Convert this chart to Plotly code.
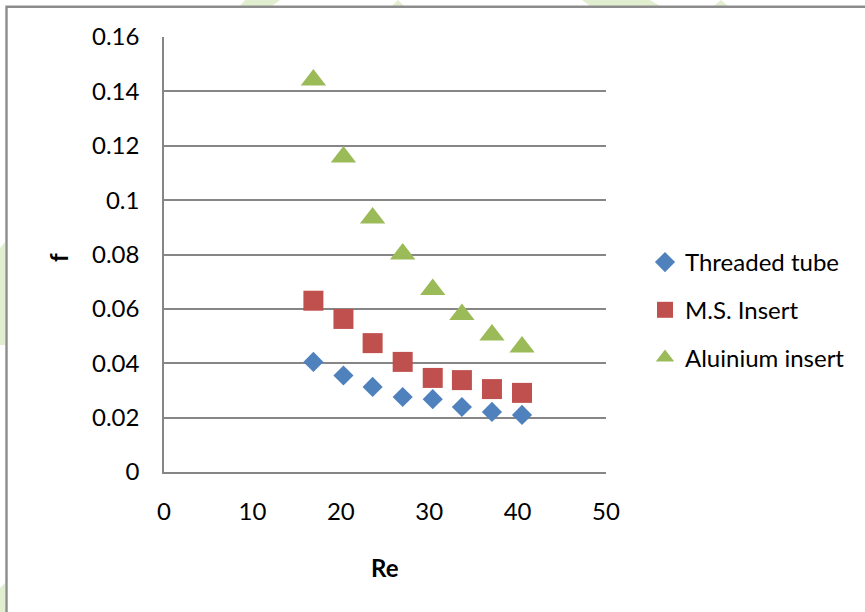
import plotly.graph_objects as go

# Reynolds number and friction factor for the three tube configurations
re_values = [16.9, 20.3, 23.6, 27.0, 30.4, 33.7, 37.1, 40.5]
f_threaded = [0.0405, 0.0355, 0.0313, 0.0276, 0.0268, 0.0239, 0.0221, 0.0210]
f_ms_insert = [0.0630, 0.0563, 0.0474, 0.0405, 0.0346, 0.0338, 0.0305, 0.0291]
f_aluminium = [0.1442, 0.1159, 0.0934, 0.0802, 0.0671, 0.0579, 0.0504, 0.0460]

series_names = ["Threaded tube", "M.S. Insert", "Aluinium insert"]
x_ticks = [0, 10, 20, 30, 40, 50]
y_ticks = [0, 0.02, 0.04, 0.06, 0.08, 0.1, 0.12, 0.14, 0.16]
y_tick_text = ["0", "0.02", "0.04", "0.06", "0.08", "0.1", "0.12", "0.14", "0.16"]

W, H = 865, 612
L, R, T, B = 164, 606, 37, 472   # plot-area edges in pixels
FONT = "Lato, 'Open Sans', sans-serif"
FS = 24
GRID = "#868686"


def px(x):
    return (x - L) / (R - L)


def py(y):
    return (B - y) / (B - T)


fig = go.Figure()
styles = [
    ("diamond", 15.5, "#4F81BD"),
    ("square", 20, "#C0504D"),
    ("triangle-up", 22, "#9BBB59"),
]
for name, ys, (sym, size, col) in zip(series_names,
                                       [f_threaded, f_ms_insert, f_aluminium],
                                       styles):
    fig.add_trace(go.Scatter(
        x=re_values, y=ys, mode="markers", name=name, legendgroup=name,
        marker=dict(symbol=sym, size=size, color=col, line=dict(width=0)),
    ))

shapes = []
# faint green background pieces peeking in around the frame
green = "rgba(196,222,160,0.5)"
patches = [
    [(245, 0), (280, 0), (272, 6), (240, 6)],
    [(392, 6), (398, 0), (404, 6)],
    [(582, 0), (650, 0), (660, 6), (590, 6)],
    [(714, 6), (721, 0), (728, 6)],
    [(0, 248), (5, 242), (5, 345), (0, 345)],
    [(0, 588), (5, 583), (5, 612), (0, 612)],
]
for pts in patches:
    path = "M " + " L ".join(f"{px(a):.5f},{py(b):.5f}" for a, b in pts) + " Z"
    shapes.append(dict(type="path", xref="paper", yref="paper", path=path,
                       fillcolor=green, line=dict(width=0), layer="below"))

# outer frame (top and left edges visible)
frame = (f"M {px(6.5):.5f},{py(620):.5f} L {px(6.5):.5f},{py(6.8):.5f} "
         f"L {px(880):.5f},{py(6.8):.5f}")
shapes.append(dict(type="path", xref="paper", yref="paper", path=frame,
                   line=dict(color="#8c8c8c", width=2.4)))

fig.update_layout(
    width=W, height=H,
    margin=dict(l=L, r=W - R, t=T, b=H - B, pad=0),
    paper_bgcolor="white", plot_bgcolor="white",
    font=dict(family=FONT, size=FS, color="black"),
    showlegend=True,
    legend=dict(
        x=px(645), y=py(240), xanchor="left", yanchor="top",
        font=dict(family=FONT, size=FS, color="black"),
        tracegroupgap=13.5, bgcolor="rgba(0,0,0,0)",
    ),
    shapes=shapes,
    annotations=[
        dict(text="<b>Re</b>", x=px(385), y=py(567), xref="paper", yref="paper",
             xanchor="center", yanchor="middle", showarrow=False,
             font=dict(family=FONT, size=FS, color="black")),
        dict(text="<b>f</b>", x=px(58), y=py(258), xref="paper", yref="paper",
             xanchor="center", yanchor="middle", showarrow=False, textangle=-90,
             font=dict(family=FONT, size=FS, color="black")),
    ],
)
fig.update_xaxes(
    range=[0, 50], tickvals=x_ticks, showgrid=False, zeroline=False,
    showline=True, linecolor=GRID, linewidth=1.5, ticks="",
    ticklabelstandoff=17, tickfont=dict(family=FONT, size=FS, color="black"),
)
fig.update_yaxes(
    range=[0, 0.16], tickvals=y_ticks, ticktext=y_tick_text,
    showgrid=True, gridcolor=GRID, gridwidth=1.5, zeroline=False,
    showline=True, linecolor=GRID, linewidth=1.5, ticks="",
    ticklabelstandoff=18, tickfont=dict(family=FONT, size=FS, color="black"),
)

fig.write_html("out.html")
